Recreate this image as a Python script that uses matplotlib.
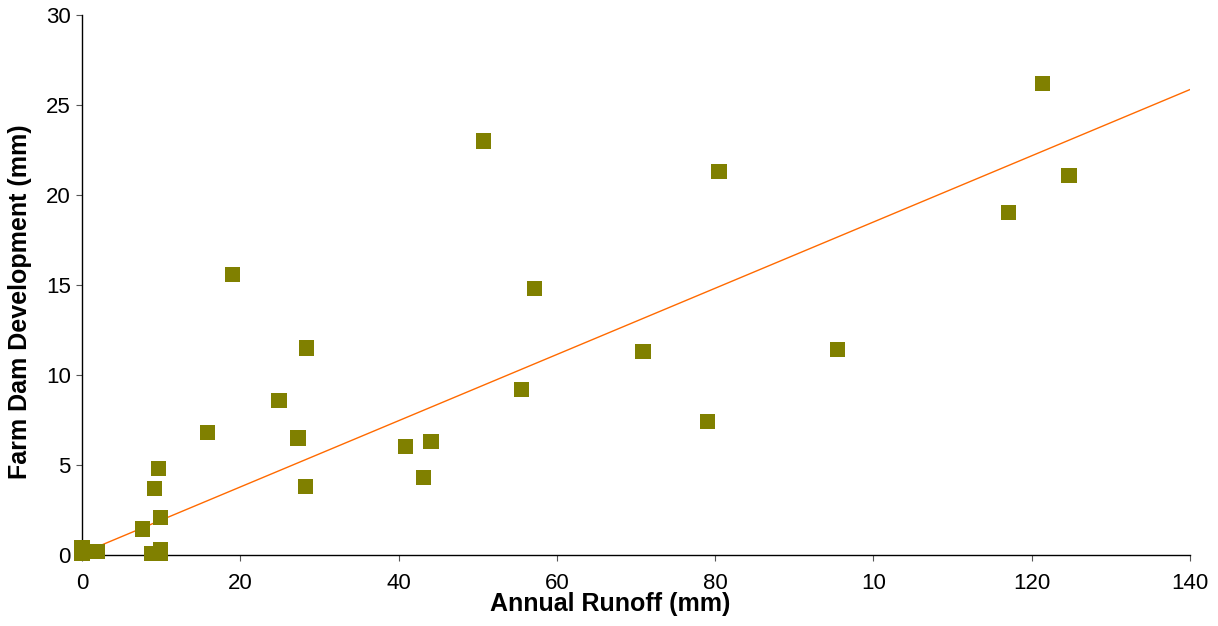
import matplotlib.pyplot as plt
import numpy as np

plt.rcParams['font.family'] = ['Liberation Sans', 'DejaVu Sans']

# annual runoff (mm) vs farm dam development (mm)
runoff = [0, 0, 1.9, 7.6, 8.8, 9.2, 9.7, 9.9, 9.9, 9.9, 15.9, 19.0, 24.9, 27.3,
          28.2, 28.4, 40.9, 43.2, 44.1, 50.7, 55.5, 57.2, 70.9, 79.0, 80.5, 95.5,
          117.1, 121.4, 124.7]
dam_dev = [0.4, 0.1, 0.2, 1.45, 0.1, 3.7, 4.8, 2.1, 0.1, 0.3, 6.8, 15.6, 8.6, 6.5,
           3.8, 11.5, 6.05, 4.3, 6.3, 23.0, 9.2, 14.8, 11.3, 7.4, 21.3, 11.4,
           19.05, 26.2, 21.1]

# trend line
trend_slope = 0.184
trend_intercept = 0.1

x_ticks = [0, 20, 40, 60, 80, 100, 120, 140]
x_tick_labels = ['0', '20', '40', '60', '80', '10', '120', '140']
y_ticks = [0, 5, 10, 15, 20, 25, 30]

fig = plt.figure(figsize=(12.18, 6.26), dpi=100)
ax = fig.add_axes([0.0673, 0.1134, 0.9097, 0.8626])

xs = np.array([0, 140])
ax.plot(xs, trend_slope * xs + trend_intercept, color='#FF6A00', linewidth=1.0, zorder=2)
ax.scatter(runoff, dam_dev, marker='s', s=120, color='#808000', edgecolors='none',
           zorder=3, clip_on=False)

ax.set_xlim(0, 140)
ax.set_ylim(0, 30)
ax.set_xticks(x_ticks)
ax.set_xticklabels(x_tick_labels)
ax.set_yticks(y_ticks)
ax.tick_params(labelsize=16, length=4, width=0.8, color='#555555')
ax.tick_params(axis='x', pad=9)
ax.tick_params(axis='y', pad=4)

for s in ['top', 'right']:
    ax.spines[s].set_visible(False)
for s in ['left', 'bottom']:
    ax.spines[s].set_linewidth(1.0)

ax.set_xlabel('Annual Runoff (mm)', fontsize=18, fontweight='bold')
ax.set_ylabel('Farm Dam Development (mm)', fontsize=18, fontweight='bold')
ax.xaxis.set_label_coords(0.4765, -0.091, transform=ax.transAxes)
ax.yaxis.set_label_coords(-0.056, 0.47, transform=ax.transAxes)
ax.xaxis.label.set_va('center')
ax.yaxis.label.set_va('center')

fig.savefig('out.png', dpi=100)
